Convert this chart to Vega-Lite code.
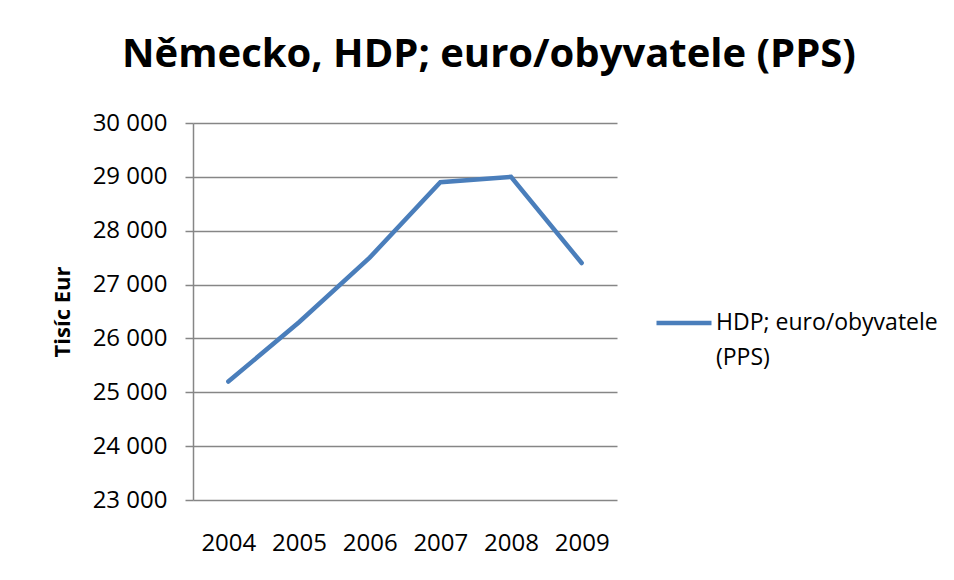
{
  "$schema": "https://vega.github.io/schema/vega-lite/v6.json",
  "width": 424,
  "height": 377,
  "autosize": {"type": "none"},
  "padding": {"left": 193, "top": 123, "right": 337, "bottom": 80},
  "background": "white",
  "title": {
    "text": "Německo, HDP; euro/obyvatele (PPS)",
    "font": "Open Sans",
    "fontSize": 40,
    "fontWeight": "bold",
    "color": "black",
    "anchor": "middle",
    "dx": 84,
    "offset": 36
  },
  "data": {
    "values": [
      {"rok": "2004", "hodnota": 25200, "serie": "HDP; euro/obyvatele (PPS)"},
      {"rok": "2005", "hodnota": 26300, "serie": "HDP; euro/obyvatele (PPS)"},
      {"rok": "2006", "hodnota": 27500, "serie": "HDP; euro/obyvatele (PPS)"},
      {"rok": "2007", "hodnota": 28900, "serie": "HDP; euro/obyvatele (PPS)"},
      {"rok": "2008", "hodnota": 29000, "serie": "HDP; euro/obyvatele (PPS)"},
      {"rok": "2009", "hodnota": 27400, "serie": "HDP; euro/obyvatele (PPS)"}
    ]
  },
  "mark": {"type": "line", "strokeWidth": 4.5, "strokeCap": "round", "strokeJoin": "miter"},
  "encoding": {
    "x": {
      "field": "rok",
      "type": "ordinal",
      "scale": {"type": "point", "padding": 0.5},
      "axis": {
        "title": null,
        "labelAngle": 0,
        "ticks": false,
        "domain": false,
        "grid": false,
        "labelPadding": 31,
        "labelFont": "Open Sans",
        "labelFontSize": 24,
        "labelColor": "black"
      }
    },
    "y": {
      "field": "hodnota",
      "type": "quantitative",
      "scale": {"domain": [23000, 30000], "nice": false, "zero": false},
      "axis": {
        "title": "Tisíc Eur",
        "titleFont": "Open Sans",
        "titleFontSize": 22,
        "titleFontWeight": "bold",
        "titleColor": "black",
        "titlePadding": 18,
        "values": [23000, 24000, 25000, 26000, 27000, 28000, 29000, 30000],
        "labelExpr": "replace(format(datum.value, ','), ',', ' ')",
        "labelFont": "Open Sans",
        "labelFontSize": 24,
        "labelColor": "black",
        "labelPadding": 18,
        "tickSize": 8,
        "tickColor": "#868686",
        "tickWidth": 1.5,
        "domainColor": "#868686",
        "domainWidth": 1.5,
        "gridColor": "#868686",
        "gridWidth": 1.5,
        "gridOpacity": 1
      }
    },
    "color": {
      "field": "serie",
      "type": "nominal",
      "scale": {"range": ["#4A7EBB"]},
      "legend": {
        "title": null,
        "orient": "none",
        "legendX": 461,
        "legendY": 170,
        "symbolType": "stroke",
        "symbolSize": 3025,
        "symbolStrokeWidth": 4.5,
        "labelFont": "Open Sans",
        "labelFontSize": 23,
        "labelColor": "black",
        "labelOffset": 2,
        "labelLimit": 400,
        "labelExpr": "['HDP; euro/obyvatele', '(PPS)']",
        "encode": {"labels": {"update": {"lineHeight": {"value": 35}}}}
      }
    }
  },
  "config": {
    "view": {"stroke": null}
  }
}
